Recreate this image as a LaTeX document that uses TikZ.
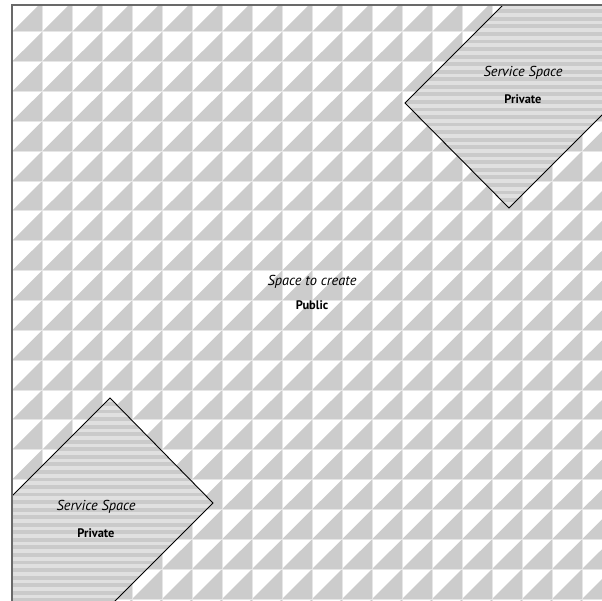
\documentclass[tikz,border=0pt]{standalone}
\usepackage{fontspec}
\setmainfont{PT Sans}
\definecolor{tri}{RGB}{204,204,204}
\definecolor{gapc}{RGB}{230,230,230}
\definecolor{sdark}{RGB}{202,202,202}
\definecolor{slight}{RGB}{224,224,224}
\definecolor{framec}{RGB}{105,105,105}
\tikzset{
  svc/.style={inner sep=0pt, font=\fontsize{14.4}{16}\selectfont\itshape},
  priv/.style={inner sep=0pt, font=\fontsize{12.4}{14}\selectfont\bfseries},
  outline/.style={draw=black, line width=0.9pt},
  stripe/.style={slight, line width=3.7pt}
}
\begin{document}
\begin{tikzpicture}[x=1pt,y=-1pt]
\useasboundingbox (0,0) rectangle (602,601);
\begin{scope}
\clip (0,0) rectangle (602,601);
\clip (12,5) rectangle (700,700);
% triangle grid
\foreach \i in {0,...,19} {
  \foreach \j in {0,...,20} {
    \fill[tri] ({12+30*\i},{2+29.85*(\j+1)}) -- ++(30,0) -- ++(0,-29.85) -- cycle;
  }
}
\foreach \i in {0,...,20} \draw[gapc, line width=1pt] ({12+30*\i},0) -- ({12+30*\i},700);
\foreach \j in {0,...,20} \draw[gapc, line width=1pt] (0,{2+29.85*\j}) -- (700,{2+29.85*\j});
% top-right diamond
\fill[sdark] (405,103) -- (509,208) -- (709,8) -- (605,-97) -- cycle;
\begin{scope}
\clip (405,103) -- (509,208) -- (709,8) -- (605,-97) -- cycle;
\foreach \k in {0,...,30} \draw[stripe] (380,{\k*7.55}) -- (700,{\k*7.55});
\end{scope}
\draw[outline] (405,103) -- (509,208) -- (709,8) -- (605,-97) -- cycle;
% bottom-left diamond
\fill[sdark] (110,398) -- (213,503) -- (13,703) -- (-90,598) -- cycle;
\begin{scope}
\clip (110,398) -- (213,503) -- (13,703) -- (-90,598) -- cycle;
\foreach \k in {50,...,85} \draw[stripe] (0,{\k*7.55}) -- (300,{\k*7.55});
\end{scope}
\draw[outline] (110,398) -- (213,503) -- (13,703) -- (-90,598) -- cycle;
\end{scope}
% frame
\draw[framec, line width=1.6pt] (12,700) -- (12,5) -- (700,5);
% labels
\node[svc] (trsvc) at (523,73) {Service Space};
\node[priv] (trpriv) at (523,99) {Private};
\node[svc] (ctsvc) at (312,282) {Space to create};
\node[priv] (ctpub) at (312,305) {Public};
\node[svc] (blsvc) at (96,507) {Service Space};
\node[priv] (blpriv) at (96,533) {Private};
\end{tikzpicture}
\end{document}
